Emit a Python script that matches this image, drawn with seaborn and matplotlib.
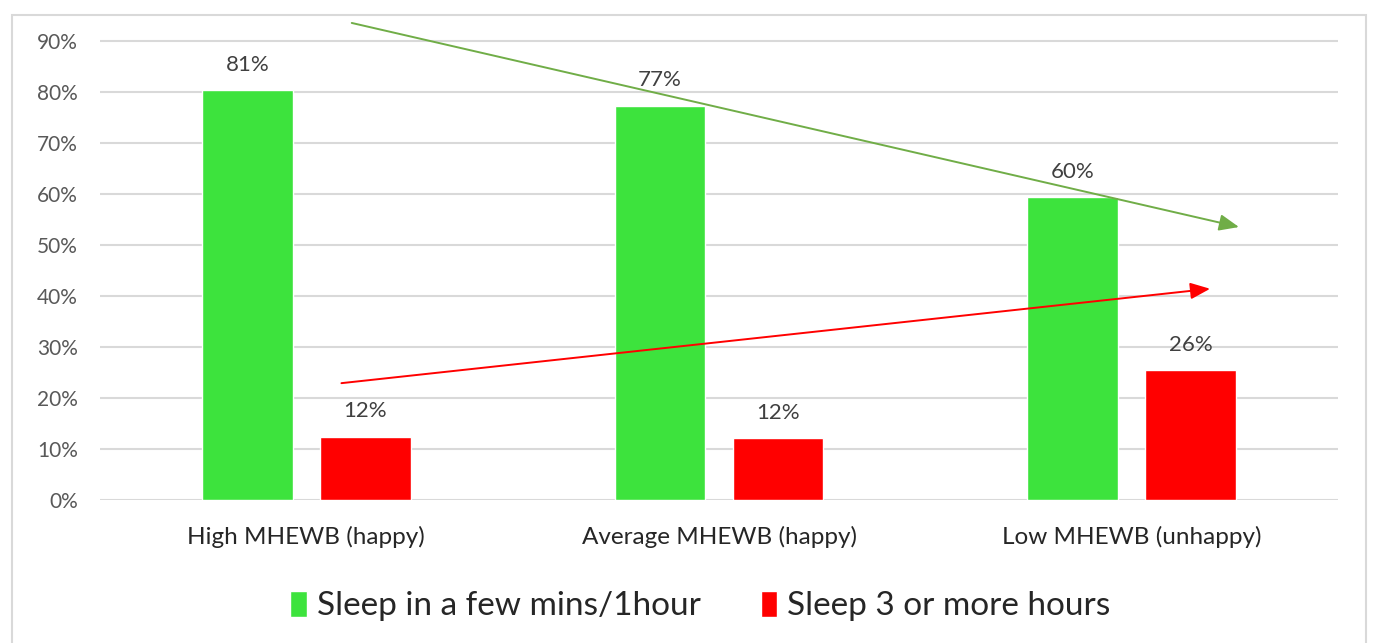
import pandas as pd
import seaborn as sns
import matplotlib.pyplot as plt
from matplotlib.patches import Rectangle

# values
groups = ['High MHEWB (happy)', 'Average MHEWB (happy)', 'Low MHEWB (unhappy)']
series = ['Sleep in a few mins/1hour', 'Sleep 3 or more hours']
fast_sleep = [80.4, 77.3, 59.4]
slow_sleep = [12.4, 12.1, 25.4]
fast_labels = ['81%', '77%', '60%']
slow_labels = ['12%', '12%', '26%']
yticks = [0, 10, 20, 30, 40, 50, 60, 70, 80, 90]

# trend arrows (category position, percent)
green_arrow = [(0.11, 93.5), (2.26, 53.5)]
red_arrow = [(0.085, 22.9), (2.19, 41.4)]

df = pd.DataFrame({
    'group': groups * 2,
    'series': [series[0]] * 3 + [series[1]] * 3,
    'value': fast_sleep + slow_sleep,
})

sns.set_style('white')
plt.rcParams['font.family'] = ['Lato', 'DejaVu Sans']

fig = plt.figure(figsize=(13.76, 6.43), dpi=100)
ax = fig.add_axes([0.0727, 0.2224, 0.8997, 0.73])

fig.patches.append(Rectangle((12 / 1376, -0.01), 1354 / 1376, 1 - 15 / 643 + 0.01,
                             transform=fig.transFigure, fill=False,
                             edgecolor='#d9d9d9', linewidth=1.5))

sns.barplot(data=df, x='group', y='value', hue='series',
            palette=['#3de33d', '#ff0000'], width=0.572, gap=0.23,
            saturation=1, ax=ax, legend=True)

for cont, labels in zip(ax.containers, [fast_labels, slow_labels]):
    ax.bar_label(cont, labels=labels, padding=11, fontsize=16, color='#404040')

ax.set_xlim(-0.5, 2.5)
ax.set_ylim(0, 92)
ax.set_yticks(yticks)
ax.set_yticklabels([f'{t}%' for t in yticks], fontsize=15, color='#595959')
ax.tick_params(axis='x', labelsize=17.5, labelcolor='#262626', pad=19, length=0)
ax.tick_params(axis='y', pad=16, length=0)
ax.set_xlabel('')
ax.set_ylabel('')
ax.grid(axis='y', color='#d9d9d9', linewidth=1.5)
ax.set_axisbelow(True)
for s in ax.spines.values():
    s.set_visible(False)

for pts, col in [(green_arrow, '#70ad47'), (red_arrow, '#ff0000')]:
    ax.annotate('', xy=pts[1], xytext=pts[0], annotation_clip=False,
                arrowprops=dict(arrowstyle='-|>,head_length=1.2,head_width=0.5',
                                color=col, lw=1.4, shrinkA=0, shrinkB=0))

leg = ax.legend(loc='upper center', bbox_to_anchor=(0.485, -0.13), ncol=2,
                frameon=False, fontsize=24, handlelength=0.5, handleheight=0.8,
                handletextpad=0.3, columnspacing=1.8)

fig.savefig('out.png', dpi=100)
